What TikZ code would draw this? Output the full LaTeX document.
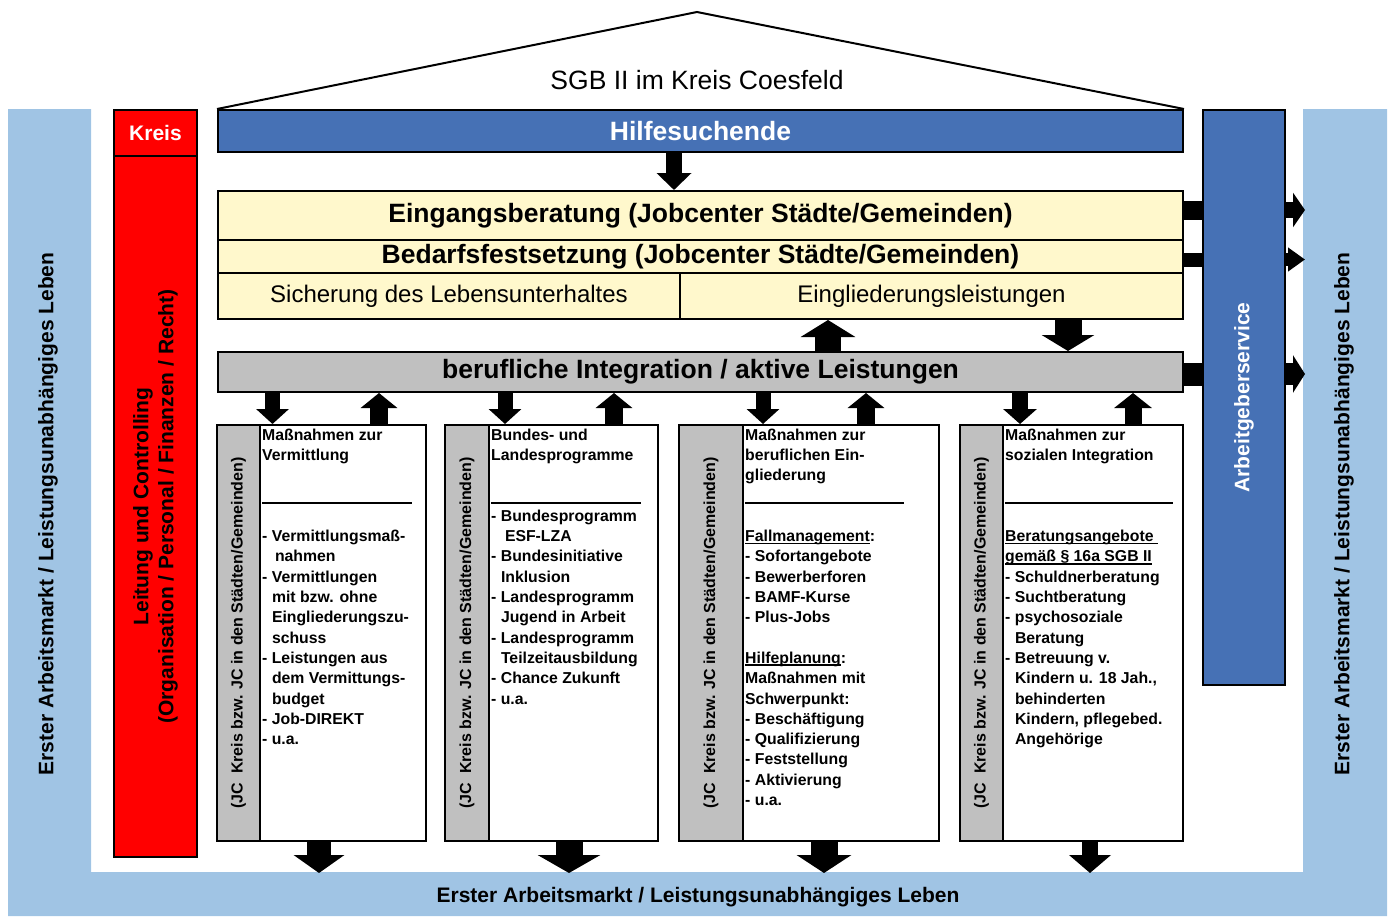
\documentclass[tikz,border=0pt]{standalone}
\usepackage{fontspec}
\setmainfont{Liberation Sans}
\usetikzlibrary{arrows.meta}
\definecolor{lblue}{HTML}{A0C4E4}
\definecolor{dblue}{HTML}{4671B5}
\definecolor{cream}{HTML}{FFF8CC}
\definecolor{lgray}{HTML}{C0C0C0}
\newsavebox\ulbox
\newcommand\myul[1]{\sbox\ulbox{#1}\rlap{\rule[-2.6pt]{\wd\ulbox}{1.6pt}}\usebox\ulbox}
\newcommand\indd{\hspace*{9.8pt}}
\newcommand\sepline[1]{\rule[-3pt]{#1}{1.8pt}}
\begin{document}
\begin{tikzpicture}[x=1pt,y=-1pt,
 bx/.style={draw=black, line width=2pt, inner sep=0pt, anchor=north west},
 bigtxt/.style={font=\fontsize{26.5}{30}\selectfont\bfseries},
 midtxt/.style={font=\fontsize{24}{28}\selectfont},
 sidetxt/.style={font=\fontsize{21}{25}\selectfont\bfseries},
 coltxt/.style={font=\fontsize{15.8}{20.3}\selectfont\bfseries, align=left, anchor=north west, inner sep=0pt},
 striptxt/.style={font=\fontsize{16}{19}\selectfont\bfseries, rotate=90, inner sep=0pt},
 blk/.style n args={3}{line width=#1pt, -{Triangle[width=#2pt,length=#3pt]}},
]
\useasboundingbox (0,0) rectangle (1390,916);
% background frame
\fill[lblue] (8,109) -- (91,109) -- (91,872) -- (1303,872) -- (1303,109) -- (1387,109) -- (1387,916) -- (8,916) -- cycle;

% main boxes
\node[bx, fill=dblue, minimum width=965pt, minimum height=42pt, text=white, bigtxt] (hilfe) at (217,109) {Hilfesuchende};
\draw[line width=2pt, line join=miter] (hilfe.north west) -- (697,12) -- (hilfe.north east);
\node[font=\fontsize{26.5}{30}\selectfont] (title) at (697,80) {SGB II im Kreis Coesfeld};

\node[bx, fill=cream, minimum width=965pt, minimum height=49pt, bigtxt] (eing) at (217,190) {Eingangsberatung (Jobcenter Städte/Gemeinden)};
\node[bx, fill=cream, minimum width=965pt, minimum height=33pt, bigtxt] (bedarf) at (217,239) {Bedarfsfestsetzung (Jobcenter Städte/Gemeinden)};
\node[bx, fill=cream, minimum width=462pt, minimum height=46pt, midtxt] (sich) at (217,272) {Sicherung des Lebensunterhaltes};
\node[bx, fill=cream, minimum width=503pt, minimum height=46pt, midtxt] (eingl) at (679,272) {Eingliederungsleistungen};
\node[bx, fill=lgray, minimum width=965pt, minimum height=40pt, bigtxt] (beruf) at (217,351) {berufliche Integration / aktive Leistungen};

% Kreis column
\node[bx, fill=red, minimum width=83pt, minimum height=46pt, sidetxt, text=white] (kreis) at (113,109) {Kreis};
\node[bx, fill=red, minimum width=83pt, minimum height=701pt] (leit) at (113,155) {};
\node[sidetxt, rotate=90, align=center] (leittxt) at (leit.center) {Leitung und Controlling\\(Organisation / Personal / Finanzen / Recht)};

% Arbeitgeberservice
\node[bx, fill=dblue, minimum width=82pt, minimum height=575pt] (ags) at (1202,109) {};
\node[sidetxt, rotate=90, text=white] (agstxt) at (ags.center) {Arbeitgeberservice};

% side and bottom labels
\node[sidetxt, rotate=90] (lside) at (48,514) {Erster Arbeitsmarkt / Leistungsunabhängiges Leben};
\node[sidetxt, rotate=90] (rside) at (1344,514) {Erster Arbeitsmarkt / Leistungsunabhängiges Leben};
\node[sidetxt] (bottom) at (698,897) {Erster Arbeitsmarkt / Leistungsunabhängiges Leben};

% columns
\node[bx, fill=lgray, minimum width=43pt, minimum height=416pt] (g1) at (216,424) {};
\node[bx, fill=white, minimum width=166pt, minimum height=416pt] (c1) at (259,424) {};
\node[bx, fill=lgray, minimum width=44pt, minimum height=416pt] (g2) at (444,424) {};
\node[bx, fill=white, minimum width=169pt, minimum height=416pt] (c2) at (488,424) {};
\node[bx, fill=lgray, minimum width=64pt, minimum height=416pt] (g3) at (678,424) {};
\node[bx, fill=white, minimum width=196pt, minimum height=416pt] (c3) at (742,424) {};
\node[bx, fill=lgray, minimum width=43pt, minimum height=416pt] (g4) at (959,424) {};
\node[bx, fill=white, minimum width=180pt, minimum height=416pt] (c4) at (1002,424) {};

\node[striptxt] (s1) at (g1.center) {(JC\ \ Kreis bzw. JC in den Städten/Gemeinden)};
\node[striptxt] (s2) at (g2.center) {(JC\ \ Kreis bzw. JC in den Städten/Gemeinden)};
\node[striptxt] (s3) at (g3.center) {(JC\ \ Kreis bzw. JC in den Städten/Gemeinden)};
\node[striptxt] (s4) at (g4.center) {(JC\ \ Kreis bzw. JC in den Städten/Gemeinden)};

\node[coltxt] (t1) at ([xshift=3pt,yshift=-4.5pt]c1.north west) {Maßnahmen zur\\
Vermittlung\\
\mbox{}\\
\sepline{150pt}\\
\mbox{}\\
- Vermittlungsmaß-\\
\indd\hspace*{3pt}nahmen\\
- Vermittlungen\\
\indd mit bzw. ohne\\
\indd Eingliederungszu-\\
\indd schuss\\
- Leistungen aus\\
\indd dem Vermittungs-\\
\indd budget\\
- Job-DIREKT\\
- u.a.};

\node[coltxt] (t2) at ([xshift=3pt,yshift=-4.5pt]c2.north west) {Bundes- und\\
Landesprogramme\\
\mbox{}\\
\sepline{150pt}\\
- Bundesprogramm\\
\indd\hspace*{4pt}ESF-LZA\\
- Bundesinitiative\\
\indd Inklusion\\
- Landesprogramm\\
\indd Jugend in Arbeit\\
- Landesprogramm\\
\indd Teilzeitausbildung\\
- Chance Zukunft\\
- u.a.};

\node[coltxt] (t3) at ([xshift=3pt,yshift=-4.5pt]c3.north west) {Maßnahmen zur\\
beruflichen Ein-\\
gliederung\\
\sepline{159pt}\\
\mbox{}\\
\myul{Fallmanagement}:\\
- Sofortangebote\\
- Bewerberforen\\
- BAMF-Kurse\\
- Plus-Jobs\\
\mbox{}\\
\myul{Hilfeplanung}:\\
Maßnahmen mit\\
Schwerpunkt:\\
- Beschäftigung\\
- Qualifizierung\\
- Feststellung\\
- Aktivierung\\
- u.a.};

\node[coltxt] (t4) at ([xshift=3pt,yshift=-4.5pt]c4.north west) {Maßnahmen zur\\
sozialen Integration\\
\mbox{}\\
\sepline{168pt}\\
\mbox{}\\
\myul{Beratungsangebote\ }\\
\myul{gemäß § 16a SGB II}\\
- Schuldnerberatung\\
- Suchtberatung\\
- psychosoziale\\
\indd Beratung\\
- Betreuung v.\\
\indd Kindern u. 18 Jah.,\\
\indd behinderten\\
\indd Kindern, pflegebed.\\
\indd Angehörige};

% connectors
\coordinate (ax) at (674,0);
\draw[blk={16}{34}{17}] (ax |- hilfe.south) -- (ax |- eing.north);
\coordinate (au) at (828,0);
\coordinate (ad) at (1068,0);
\draw[blk={26}{54}{17}] (au |- beruf.north) -- (au |- eingl.south);
\draw[blk={27}{52}{16}] (ad |- eingl.south) -- (ad |- beruf.north);

\coordinate (d1) at (272.5,0); \coordinate (u1) at (379,0);
\coordinate (d2) at (505,0);   \coordinate (u2) at (614,0);
\coordinate (d3) at (763,0);   \coordinate (u3) at (866,0);
\coordinate (d4) at (1020,0);  \coordinate (u4) at (1133,0);
\draw[blk={15}{32}{15}] (d1 |- beruf.south) -- (d1 |- c1.north);
\draw[blk={18}{36}{15}] (u1 |- c1.north) -- (u1 |- beruf.south);
\draw[blk={15}{32}{15}] (d2 |- beruf.south) -- (d2 |- c2.north);
\draw[blk={18}{36}{15}] (u2 |- c2.north) -- (u2 |- beruf.south);
\draw[blk={15}{32}{15}] (d3 |- beruf.south) -- (d3 |- c3.north);
\draw[blk={18}{36}{15}] (u3 |- c3.north) -- (u3 |- beruf.south);
\draw[blk={16}{33}{15}] (d4 |- beruf.south) -- (d4 |- c4.north);
\draw[blk={17}{37}{15}] (u4 |- c4.north) -- (u4 |- beruf.south);

\coordinate (floor) at (0,873);
\coordinate (b1) at (319,0); \coordinate (b2) at (569,0);
\coordinate (b3) at (824,0); \coordinate (b4) at (1090,0);
\draw[blk={24}{50}{18}] (b1 |- c1.south) -- (b1 |- floor);
\draw[blk={27}{62}{18}] (b2 |- c2.south) -- (b2 |- floor);
\draw[blk={27}{54}{18}] (b3 |- c3.south) -- (b3 |- floor);
\draw[blk={16}{41}{18}] (b4 |- c4.south) -- (b4 |- floor);

\coordinate (r1) at (0,210); \coordinate (r2) at (0,259.5); \coordinate (r3) at (0,374);
\draw[line width=19pt] (eing.east |- r1) -- (ags.west |- r1);
\draw[line width=14pt] (bedarf.east |- r2) -- (ags.west |- r2);
\draw[line width=23pt] (beruf.east |- r3) -- (ags.west |- r3);
\coordinate (rs) at (1305,0);
\draw[blk={16}{34}{12}] (ags.east |- r1) -- (rs |- r1);
\draw[blk={13}{23}{17}] (ags.east |- r2) -- (rs |- r2);
\draw[blk={22}{37}{12}] (ags.east |- r3) -- (rs |- r3);
\end{tikzpicture}
\end{document}
